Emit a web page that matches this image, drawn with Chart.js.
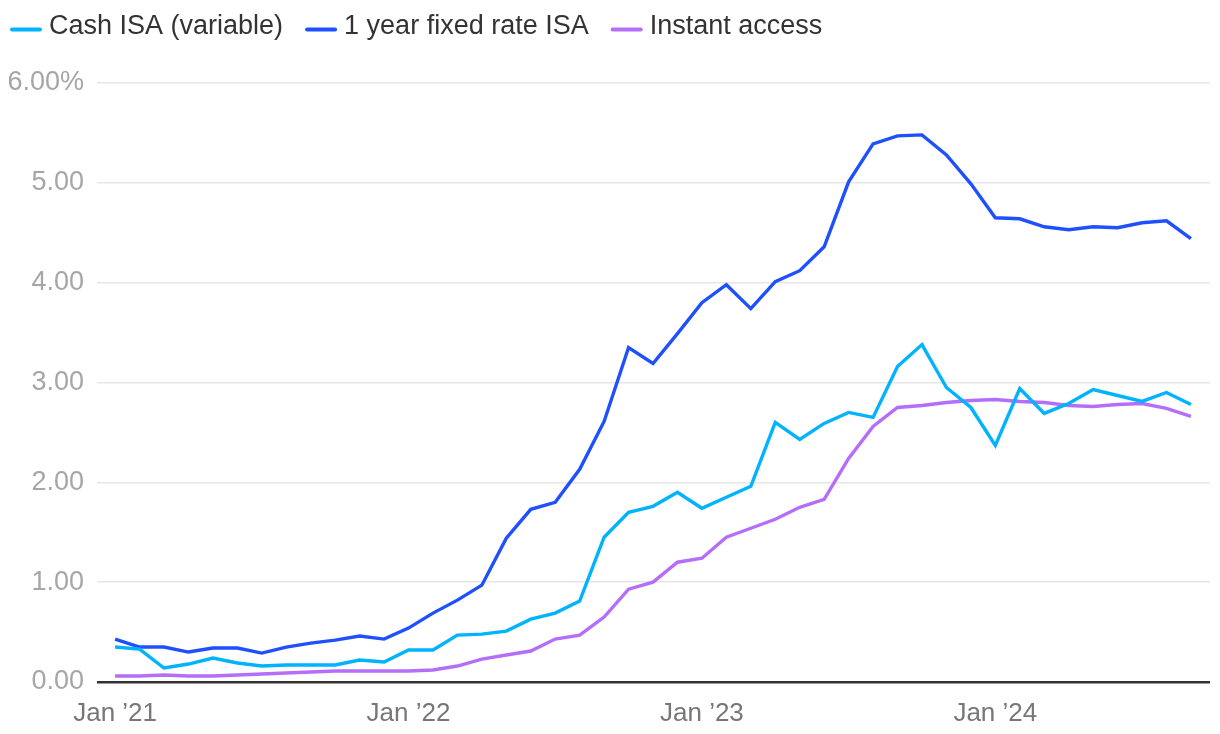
<!DOCTYPE html>
<html>
<head>
<meta charset="utf-8">
<script src="https://cdn.jsdelivr.net/npm/chart.js@4.4.1/dist/chart.umd.min.js"></script>
<style>
  html, body { margin: 0; padding: 0; background: #fff; }
  #wrap { width: 1220px; height: 734px; }
</style>
</head>
<body>
<div id="wrap"><canvas id="chart"></canvas></div>
<script>
// monthly, Jan 2021 - Sep 2024
const months = [
  "Jan 21", "Feb 21", "Mar 21", "Apr 21", "May 21", "Jun 21", "Jul 21", "Aug 21", "Sep 21", "Oct 21", "Nov 21", "Dec 21",
  "Jan 22", "Feb 22", "Mar 22", "Apr 22", "May 22", "Jun 22", "Jul 22", "Aug 22", "Sep 22", "Oct 22", "Nov 22", "Dec 22",
  "Jan 23", "Feb 23", "Mar 23", "Apr 23", "May 23", "Jun 23", "Jul 23", "Aug 23", "Sep 23", "Oct 23", "Nov 23", "Dec 23",
  "Jan 24", "Feb 24", "Mar 24", "Apr 24", "May 24", "Jun 24", "Jul 24", "Aug 24", "Sep 24",
];

const cashIsa = [
  0.35, 0.33, 0.14, 0.18, 0.24, 0.19, 0.16, 0.17, 0.17, 0.17, 0.22, 0.20,
  0.32, 0.32, 0.47, 0.48, 0.51, 0.63, 0.69, 0.81, 1.45, 1.70, 1.76, 1.90,
  1.74, 1.85, 1.96, 2.60, 2.43, 2.59, 2.70, 2.65, 3.16, 3.38, 2.95, 2.75,
  2.37, 2.94, 2.69, 2.79, 2.93, 2.87, 2.81, 2.90, 2.78,
];

const fixedIsa = [
  0.43, 0.35, 0.35, 0.30, 0.34, 0.34, 0.29, 0.35, 0.39, 0.42, 0.46, 0.43,
  0.54, 0.69, 0.82, 0.97, 1.44, 1.73, 1.80, 2.13, 2.61, 3.35, 3.19, 3.49,
  3.80, 3.98, 3.74, 4.01, 4.12, 4.36, 5.01, 5.39, 5.47, 5.48, 5.28, 4.99,
  4.65, 4.64, 4.56, 4.53, 4.56, 4.55, 4.60, 4.62, 4.44,
];

const instantAccess = [
  0.06, 0.06, 0.07, 0.06, 0.06, 0.07, 0.08, 0.09, 0.10, 0.11, 0.11, 0.11,
  0.11, 0.12, 0.16, 0.23, 0.27, 0.31, 0.43, 0.47, 0.65, 0.93, 1.00, 1.20,
  1.24, 1.45, 1.54, 1.63, 1.75, 1.83, 2.24, 2.56, 2.75, 2.77, 2.80, 2.82,
  2.83, 2.81, 2.80, 2.77, 2.76, 2.78, 2.79, 2.74, 2.66,
];

const seriesNames = ["Cash ISA (variable)", "1 year fixed rate ISA", "Instant access"];
const xTickIndex = [0, 12, 24, 36];
const xTickLabels = ["Jan \u201921", "Jan \u201922", "Jan \u201923", "Jan \u201924"];
const yTicks = [0, 1, 2, 3, 4, 5, 6];

const colors = ["#00b3ff", "#1f50ff", "#b56ef9"];
const FONT = "'Liberation Sans', Arial, sans-serif";

function toPoints(values) {
  return values.map((v, i) => ({ x: i, y: v }));
}

// simple top legend: short line + label, left aligned
const lineLegend = {
  id: "lineLegend",
  afterDraw(chart) {
    const c = chart.ctx;
    c.save();
    c.font = "27px " + FONT;
    c.textBaseline = "middle";
    let x = 10;
    chart.data.datasets.forEach((ds) => {
      c.strokeStyle = ds.borderColor;
      c.lineWidth = 4;
      c.lineCap = "round";
      c.beginPath();
      c.moveTo(x + 2, 29.5);
      c.lineTo(x + 30, 29.5);
      c.stroke();
      c.fillStyle = "#333";
      c.fillText(ds.label, x + 39, 27);
      x += 39 + c.measureText(ds.label).width + 22;
    });
    c.restore();
  },
};

const ctx = document.getElementById("chart");

new Chart(ctx, {
  type: "line",
  data: {
    labels: months,
    datasets: [cashIsa, fixedIsa, instantAccess].map((vals, i) => ({
      label: seriesNames[i],
      data: toPoints(vals),
      borderColor: colors[i],
      backgroundColor: colors[i],
      borderWidth: 3.4,
      pointRadius: 0,
      tension: 0,
      borderJoinStyle: "miter",
    })),
  },
  options: {
    responsive: true,
    maintainAspectRatio: false,
    animation: false,
    layout: { padding: { top: 83, right: 10, left: 0, bottom: 0 } },
    plugins: {
      tooltip: { enabled: false },
      legend: { display: false },
    },
    scales: {
      x: {
        type: "linear",
        min: -0.74,
        max: 44.78,
        grid: { display: false },
        border: { display: false },
        afterBuildTicks(scale) {
          scale.ticks = xTickIndex.map((v) => ({ value: v }));
        },
        afterFit(scale) {
          scale.height = 52;
        },
        ticks: {
          padding: 8,
          color: "#777",
          font: { family: FONT, size: 26 },
          maxRotation: 0,
          autoSkip: false,
          callback: (v) => xTickLabels[xTickIndex.indexOf(v)],
        },
      },
      y: {
        min: 0,
        max: 6,
        border: { display: false },
        afterBuildTicks(scale) {
          scale.ticks = yTicks.map((v) => ({ value: v }));
        },
        afterFit(scale) {
          scale.width = 97;
        },
        grid: {
          drawTicks: false,
          color: (c) => (c.tick && c.tick.value === 0 ? "#333" : "#e6e6e6"),
          lineWidth: (c) => (c.tick && c.tick.value === 0 ? 2.5 : 1.6),
        },
        ticks: {
          padding: 13,
          color: "#a6a6a6",
          font: { family: FONT, size: 27 },
          callback: (v) => (v === 6 ? v.toFixed(2) + "%" : v.toFixed(2)),
        },
      },
    },
  },
  plugins: [lineLegend],
});
</script>
</body>
</html>
